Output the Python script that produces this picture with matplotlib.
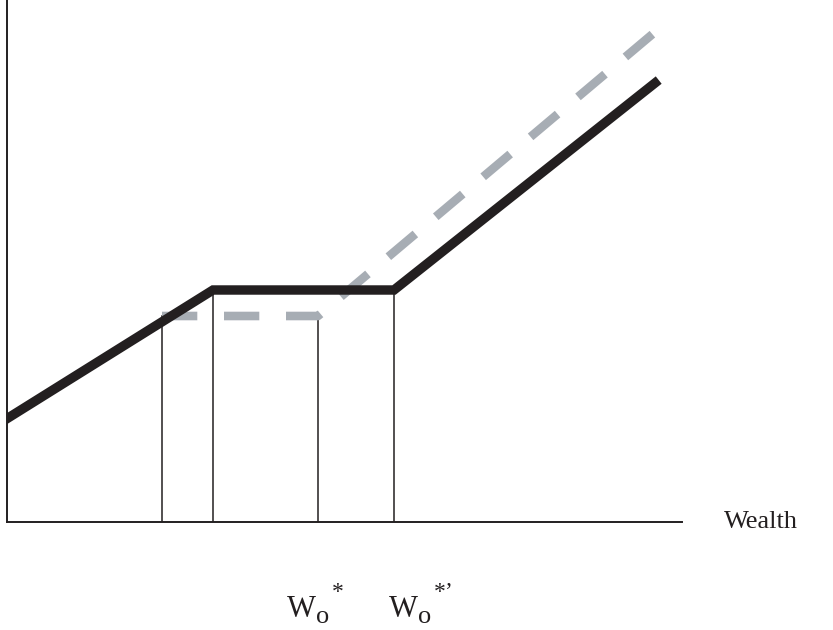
import matplotlib
matplotlib.use("Agg")
import matplotlib.pyplot as plt

# value vs wealth (pixel-ish units)
black_x = [1, 206, 387, 648]
black_y = [104, 232, 232, 439]
gray_x = [155, 311, 648]
gray_y = [206, 206, 490]
vline_x = [155, 206, 311, 387]
vline_top = [206, 232, 206, 232]
# label pieces: base letter, subscript, superscript
label_sup = ["*", "*\u2019"]
label_left = [287, 389]

W, H = 833, 630
ink = "#231f20"
serif = "Liberation Serif"

fig = plt.figure(figsize=(W/100, H/100), dpi=100)
ax = fig.add_axes([7/W, 1 - 522/H, 675/W, 522/H])
ax.set_xlim(0, 675)
ax.set_ylim(0, 522)

for xv, top in zip(vline_x, vline_top):
    ax.plot([xv, xv], [0, top], color=ink, lw=1.1, zorder=1)

ax.plot(gray_x, gray_y, color="#a7adb4", lw=6.2, dashes=(4.1, 3.1),
        solid_capstyle="butt", dash_capstyle="butt", zorder=2)
ax.plot(black_x, black_y, color=ink, lw=6.8, solid_joinstyle="miter", zorder=3)

for s in ["top", "right"]:
    ax.spines[s].set_visible(False)
for s in ["left", "bottom"]:
    ax.spines[s].set_color(ink)
    ax.spines[s].set_linewidth(1.4)
ax.set_xticks([])
ax.set_yticks([])
ax.patch.set_alpha(0)


def px(x, y):
    return x / W, 1 - y / H


fig.text(*px(761, 522), "Wealth", fontsize=19, family=serif,
         ha="center", va="center", color=ink)
for sup, x0 in zip(label_sup, label_left):
    fig.text(*px(x0, 617), "W", fontsize=22, family=serif, ha="left",
             va="baseline", color=ink)
    fig.text(*px(x0 + 29, 623), "o", fontsize=19, family=serif, ha="left",
             va="baseline", color=ink)
    fig.text(*px(x0 + 45, 598), sup, fontsize=17, family=serif, ha="left",
             va="baseline", color=ink)

fig.savefig("out.png", dpi=100)
